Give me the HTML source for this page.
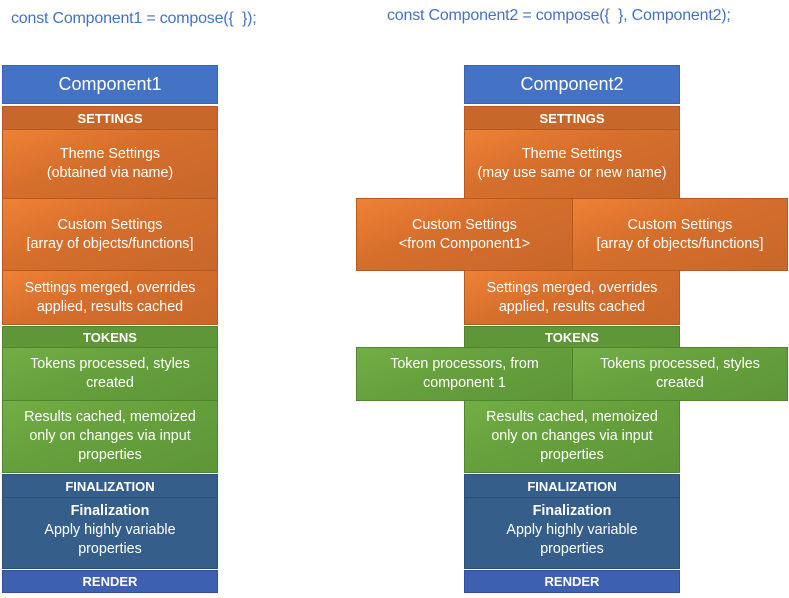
<!DOCTYPE html>
<html><head><meta charset="utf-8"><style>
body{margin:0;width:789px;height:598px;background:#fff;position:relative;overflow:hidden;font-family:"Liberation Sans",sans-serif;}
.b{position:absolute;box-sizing:border-box;display:flex;align-items:center;justify-content:center;text-align:center;color:#fff;font-size:14.3px;line-height:19px;letter-spacing:0}
.o{background:linear-gradient(160deg,#ee8134 0%,#d56e2c 45%,#c8672a 100%);border:1px solid #b45a22}
.oh{background:#c8672a;border:1px solid #b45a22;font-weight:bold;font-size:13px}
.g{background:linear-gradient(160deg,#72ae45 0%,#66a03c 45%,#5e9638 100%);border:1px solid #4f8430}
.gh{background:#5e9638;border:1px solid #4f8430;font-weight:bold;font-size:13px}
.d{background:#355f8a;border:1px solid #2b5075}
.dh{font-weight:bold;font-size:13px}
.t{background:#4472c4;border:1px solid #3a64b0;font-size:18px}
.r{background:#3e60b0;border:1px solid #344f94;font-weight:bold;font-size:13px}
.c{position:absolute;color:#4472c4;font-size:16px;letter-spacing:-0.2px;white-space:nowrap}
</style></head><body>
<div class="c" style="left:11px;top:10px">const Component1 = compose({&nbsp; });</div>
<div class="c" style="left:387px;top:7px">const Component2 = compose({&nbsp; }, Component2);</div>

<div class="b t" style="left:2px;top:65px;width:216px;height:39px">Component1</div>
<div class="b oh" style="left:2px;top:106px;width:216px;height:24px">SETTINGS</div>
<div class="b o" style="left:2px;top:129px;width:216px;height:70px">Theme Settings<br>(obtained via name)</div>
<div class="b o" style="left:2px;top:198px;width:216px;height:73px">Custom Settings<br>[array of objects/functions]</div>
<div class="b o" style="left:2px;top:270px;width:216px;height:55px">Settings merged, overrides<br>applied, results cached</div>
<div class="b gh" style="left:2px;top:326px;width:216px;height:22px">TOKENS</div>
<div class="b g" style="left:2px;top:347px;width:216px;height:54px">Tokens processed, styles<br>created</div>
<div class="b g" style="left:2px;top:400px;width:216px;height:73px">Results cached, memoized<br>only on changes via input<br>properties</div>
<div class="b d dh" style="left:2px;top:474px;width:216px;height:24px">FINALIZATION</div>
<div class="b d" style="left:2px;top:497px;width:216px;height:72px"><div style="margin-top:-5px"><b>Finalization</b><br>Apply highly variable<br>properties</div></div>
<div class="b r" style="left:2px;top:570px;width:216px;height:23px">RENDER</div>

<div class="b t" style="left:464px;top:65px;width:216px;height:39px">Component2</div>
<div class="b oh" style="left:464px;top:106px;width:216px;height:24px">SETTINGS</div>
<div class="b o" style="left:464px;top:129px;width:216px;height:70px">Theme Settings<br>(may use same or new name)</div>
<div class="b o" style="left:356px;top:198px;width:217px;height:73px">Custom Settings<br>&lt;from Component1&gt;</div>
<div class="b o" style="left:572px;top:198px;width:216px;height:73px">Custom Settings<br>[array of objects/functions]</div>
<div class="b o" style="left:464px;top:270px;width:216px;height:55px">Settings merged, overrides<br>applied, results cached</div>
<div class="b gh" style="left:464px;top:326px;width:216px;height:22px">TOKENS</div>
<div class="b g" style="left:356px;top:347px;width:217px;height:54px">Token processors, from<br>component 1</div>
<div class="b g" style="left:572px;top:347px;width:216px;height:54px">Tokens processed, styles<br>created</div>
<div class="b g" style="left:464px;top:400px;width:216px;height:73px">Results cached, memoized<br>only on changes via input<br>properties</div>
<div class="b d dh" style="left:464px;top:474px;width:216px;height:24px">FINALIZATION</div>
<div class="b d" style="left:464px;top:497px;width:216px;height:72px"><div style="margin-top:-5px"><b>Finalization</b><br>Apply highly variable<br>properties</div></div>
<div class="b r" style="left:464px;top:570px;width:216px;height:23px">RENDER</div>
</body></html>
